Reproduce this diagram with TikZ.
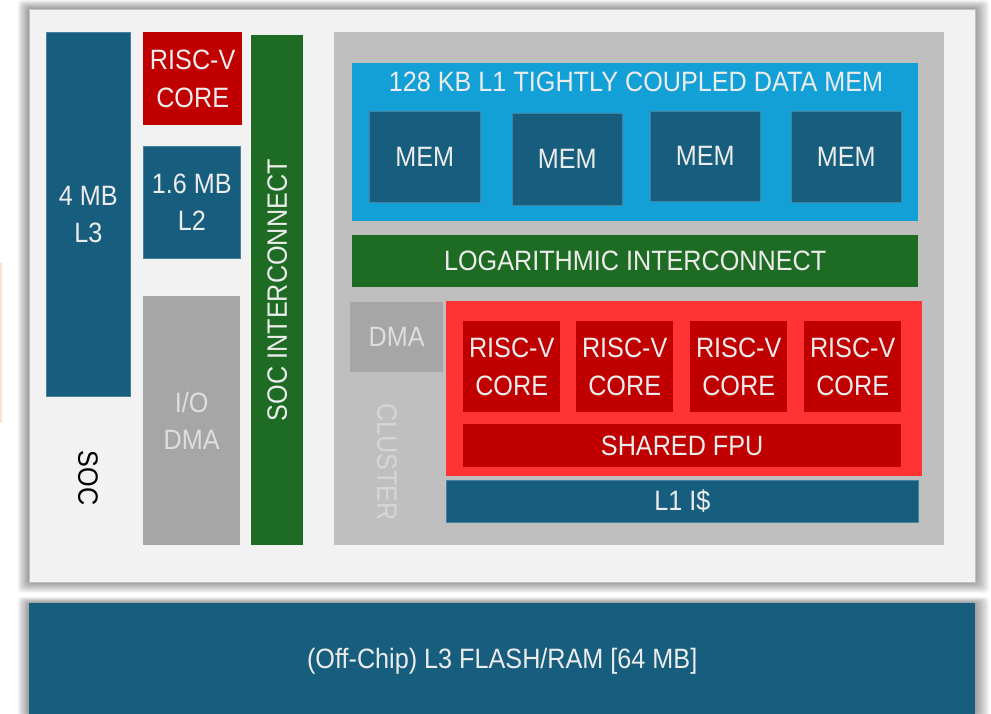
\documentclass[tikz,border=0pt]{standalone}
\usepackage{fontspec}
\setmainfont[FakeStretch=0.9]{Liberation Sans}
\definecolor{dblue}{RGB}{23,94,126}
\definecolor{dblueedge}{RGB}{70,130,160}
\definecolor{lblue}{RGB}{18,160,215}
\definecolor{cred}{RGB}{192,0,0}
\definecolor{lred}{RGB}{255,51,51}
\definecolor{cgreen}{RGB}{30,107,36}
\definecolor{cgrey}{RGB}{191,191,191}
\definecolor{dgrey}{RGB}{166,166,166}
\definecolor{bgsoc}{RGB}{242,242,242}
\definecolor{txt}{RGB}{236,236,236}
\definecolor{gtxt}{RGB}{222,222,222}
\definecolor{ctxt}{RGB}{214,214,214}
\definecolor{orangeline}{RGB}{253,226,204}
\newcommand\bx[7]{\node[blk,#6,minimum width={#4-#2},minimum height={#5-#3}] (#1) at (#2,#3) {#7};}
\begin{document}
\begin{tikzpicture}[x=1pt,y=-1pt,
  blk/.style={draw=none,inner sep=0pt,anchor=north west,align=center,text=txt,
    font=\fontsize{28}{37.5}\selectfont},
  lbl/.style={inner sep=0pt,align=center,text=txt,font=\fontsize{28}{37.5}\selectfont},
  blue/.style={fill=dblue,draw=dblueedge,line width=0.6pt},
  redc/.style={fill=cred},
  green/.style={fill=cgreen},
  greyb/.style={fill=dgrey,text=gtxt},
  shadowlayer/.style={fill=black,opacity=0.035,rounded corners=4pt}]
\useasboundingbox (0,0) rectangle (991,713);
\fill[white] (0,0) rectangle (991,713);
% faint orange line at left edge
\fill[orangeline] (0,263) rectangle (1.5,423);
% soft shadows
\foreach \i in {1,...,12}{
  \fill[shadowlayer] (29-\i*0.95,9-\i*0.75) rectangle (975+\i*1.2,582+\i*0.9);
  \fill[shadowlayer] (29-\i*0.95,603-\i*0.5) rectangle (975+\i*1.2,730);
}
% SOC outer box
\bx{soc}{29}{9}{975}{582}{fill=bgsoc,draw=cgrey,line width=0.8pt}{}
% off-chip memory
\bx{offchip}{29}{603}{975}{719}{fill=dblue}{(Off-Chip) L3 FLASH/RAM [64 MB]}
% SOC components
\bx{lthree}{46}{32}{130}{396}{blue}{4 MB\\L3}
\bx{fccore}{143}{32}{242}{125}{redc}{RISC-V\\CORE}
\bx{ltwo}{143}{146}{240}{258}{blue}{1.6 MB\\L2}
\bx{iodma}{143}{296}{240}{545}{greyb}{I/O\\DMA}
\bx{socic}{251}{35}{303}{545}{green}{}
\node[lbl,rotate=90] (socictext) at (socic.center) {SOC INTERCONNECT};
\node[lbl,rotate=-90,text=black] (soclabel) at (88,478) {SOC};
% cluster
\bx{cluster}{334}{32}{944}{545}{fill=cgrey}{}
\bx{tcdm}{352}{63}{918}{221}{fill=lblue}{}
\node[lbl] (tcdmtitle) at (636,82) {128 KB L1 TIGHTLY COUPLED DATA MEM};
\bx{memA}{369}{111}{480}{202}{blue}{MEM}
\bx{memB}{512}{113}{622}{205}{blue}{MEM}
\bx{memC}{650}{111}{760}{201}{blue}{MEM}
\bx{memD}{791}{111}{901}{202}{blue}{MEM}
\bx{logic}{352}{235}{918}{287}{green}{LOGARITHMIC INTERCONNECT}
\bx{cdma}{350}{302}{443}{372}{greyb}{DMA}
\node[lbl,rotate=-90,text=ctxt] (clusterlabel) at (387,462) {CLUSTER};
\bx{cores}{446}{301}{922}{476}{fill=lred}{}
\bx{coreA}{463}{321}{560}{412}{redc}{RISC-V\\CORE}
\bx{coreB}{576}{321}{673}{412}{redc}{RISC-V\\CORE}
\bx{coreC}{690}{321}{787}{412}{redc}{RISC-V\\CORE}
\bx{coreD}{804}{321}{901}{412}{redc}{RISC-V\\CORE}
\bx{fpu}{463}{424}{901}{467}{redc}{SHARED FPU}
\bx{icache}{446}{480}{918}{522}{blue}{L1 I\$}
\end{tikzpicture}
\end{document}
